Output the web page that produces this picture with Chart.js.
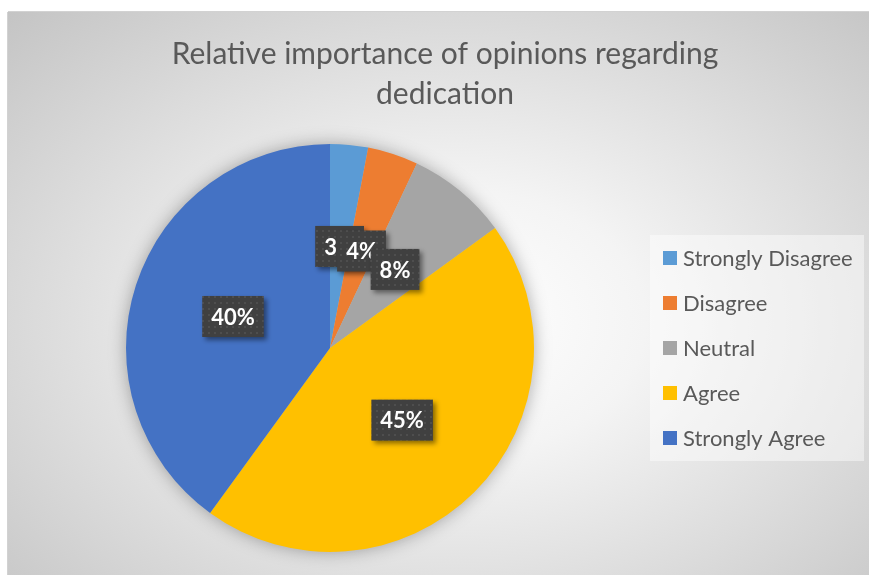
<!DOCTYPE html>
<html>
<head>
<meta charset="utf-8">
<script src="https://cdn.jsdelivr.net/npm/chart.js@4"></script>
<style>
  body { margin: 0; background: #fff; }
  #wrap {
    position: absolute; left: 8px; top: 12px; width: 861px; height: 563px;
    background: radial-gradient(ellipse farthest-corner at 52% 55%, #ffffff 0%, #f4f4f4 30%, #c4c4c4 100%);
    box-shadow: 0 -1px 0 #d2d2d2, -1px 0 0 #d2d2d2;
  }
  canvas { position: absolute; left: 0; top: 0; }
</style>
</head>
<body>
<div id="wrap"><canvas id="pie" width="861" height="563"></canvas></div>
<script>
const title = ["Relative importance of opinions regarding", "dedication"];
const categories = ["Strongly Disagree", "Disagree", "Neutral", "Agree", "Strongly Agree"];
const values = [3, 4, 8, 45, 40];
const colors = ["#5B9BD5", "#ED7D31", "#A5A5A5", "#FFC000", "#4472C4"];

const FONT = "Lato, 'Open Sans', sans-serif";

// dotted dark fill used by the data labels
const patCanvas = document.createElement("canvas");
patCanvas.width = 6;
patCanvas.height = 6;
const pctx = patCanvas.getContext("2d");
pctx.fillStyle = "#404040";
pctx.fillRect(0, 0, 6, 6);
pctx.fillStyle = "#4e4e4e";
pctx.fillRect(2, 2, 2, 2);

const pieShadow = {
  id: "pieShadow",
  beforeDatasetsDraw(chart) {
    const arc = chart.getDatasetMeta(0).data[0];
    if (!arc) return;
    const ctx = chart.ctx;
    ctx.save();
    ctx.shadowColor = "rgba(0,0,0,0.35)";
    ctx.shadowBlur = 18;
    ctx.fillStyle = "#bbbbbb";
    ctx.beginPath();
    ctx.arc(arc.x, arc.y, arc.outerRadius - 1, 0, Math.PI * 2);
    ctx.fill();
    ctx.restore();
  },
};

const extras = {
  id: "extras",
  afterDatasetsDraw(chart) {
    const ctx = chart.ctx;
    const meta = chart.getDatasetMeta(0);
    const pattern = ctx.createPattern(patCanvas, "repeat");

    // data labels
    ctx.save();
    ctx.font = "bold 22px " + FONT;
    ctx.textAlign = "center";
    ctx.textBaseline = "middle";
    meta.data.forEach((arc, i) => {
      const p = arc.tooltipPosition();
      const txt = values[i] + "%";
      const w = ctx.measureText(txt).width + 18;
      const h = 41;
      ctx.save();
      ctx.shadowColor = "rgba(0,0,0,0.45)";
      ctx.shadowBlur = 5;
      ctx.shadowOffsetX = 3;
      ctx.shadowOffsetY = 3;
      ctx.fillStyle = pattern;
      ctx.fillRect(p.x - w / 2, p.y - h / 2, w, h);
      ctx.restore();
      ctx.fillStyle = "#ffffff";
      ctx.fillText(txt, p.x, p.y + 1);
    });
    ctx.restore();

    // title
    ctx.save();
    ctx.fillStyle = "#595959";
    ctx.font = "30px " + FONT;
    ctx.textAlign = "center";
    ctx.textBaseline = "alphabetic";
    ctx.fillText(title[0], 437, 52);
    ctx.fillText(title[1], 437, 92);
    ctx.restore();

    // legend
    ctx.save();
    ctx.fillStyle = "rgba(255,255,255,0.45)";
    ctx.fillRect(642, 223, 214, 226);
    ctx.font = "22px " + FONT;
    ctx.textBaseline = "middle";
    categories.forEach((c, i) => {
      const y = 246 + i * 45;
      ctx.fillStyle = colors[i];
      ctx.fillRect(655, y - 7, 14, 14);
      ctx.fillStyle = "#595959";
      ctx.fillText(c, 675, y + 1);
    });
    ctx.restore();
  },
};

new Chart(document.getElementById("pie"), {
  type: "pie",
  data: {
    labels: categories,
    datasets: [{
      data: values,
      backgroundColor: colors,
      borderWidth: 0,
      hoverOffset: 0,
    }],
  },
  options: {
    responsive: false,
    animation: false,
    layout: { padding: { left: 118, right: 335, top: 132, bottom: 23 } },
    plugins: {
      legend: { display: false },
      tooltip: { enabled: false },
    },
  },
  plugins: [pieShadow, extras],
});
</script>
</body>
</html>
